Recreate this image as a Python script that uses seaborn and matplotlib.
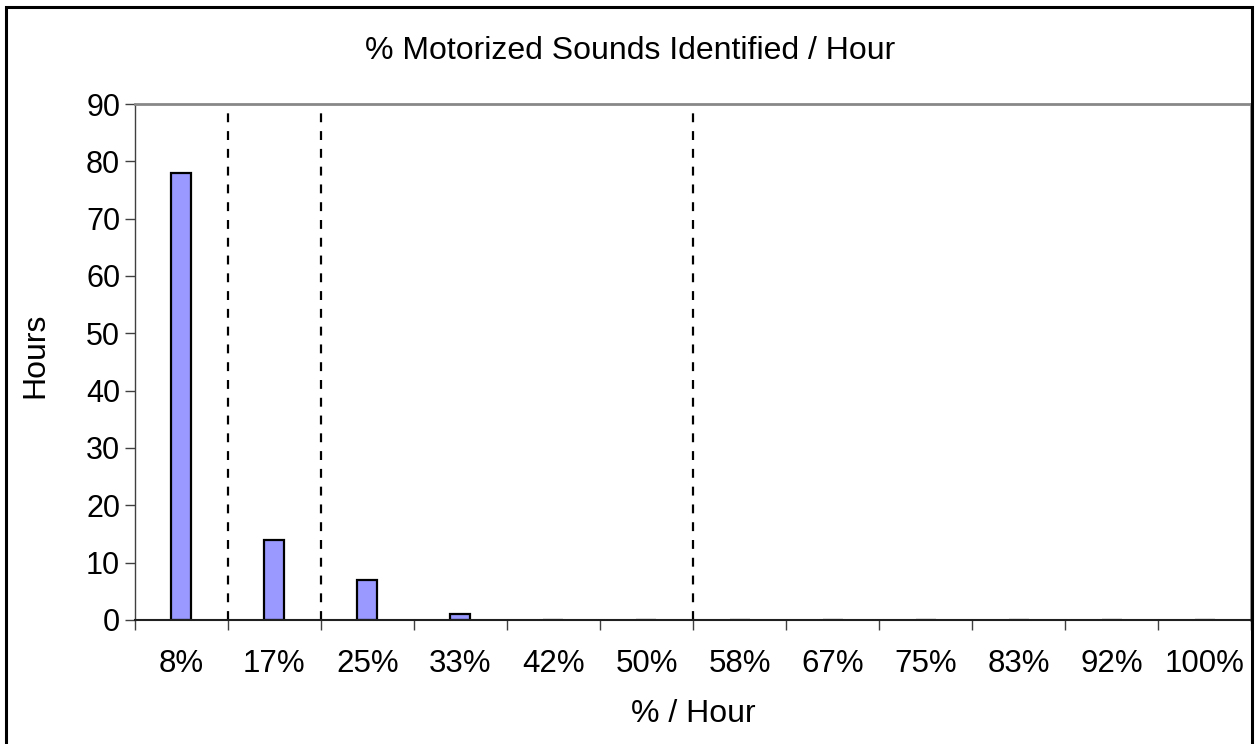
import matplotlib
matplotlib.use("Agg")
import matplotlib.pyplot as plt
import seaborn as sns
import pandas as pd
from matplotlib.patches import Rectangle

# data
categories = ["8%", "17%", "25%", "33%", "42%", "50%", "58%", "67%", "75%", "83%", "92%", "100%"]
hours = [78, 14, 7, 1, 0, 0, 0, 0, 0, 0, 0, 0]
divider_after = ["8%", "17%", "50%"]  # dashed lines sit right of these categories
y_ticks = [0, 10, 20, 30, 40, 50, 60, 70, 80, 90]

sns.set_style("white")
plt.rcParams["font.family"] = ["Liberation Sans", "DejaVu Sans"]
plt.rcParams["text.color"] = "black"
plt.rcParams["axes.labelcolor"] = "black"
plt.rcParams["xtick.labelcolor"] = "black"
plt.rcParams["ytick.labelcolor"] = "black"

df = pd.DataFrame({"pct": categories, "hours": hours})

fig = plt.figure(figsize=(12.6, 7.44), dpi=100)
ax = fig.add_axes([0.107, 0.1667, 0.886, 0.6935])

sns.barplot(data=df, x="pct", y="hours", order=categories, color="#9999FF",
            saturation=1, width=0.215, edgecolor="black", linewidth=1.6, ax=ax)

for c in divider_after:
    ax.axvline(categories.index(c) + 0.5, color="black", linestyle=(0, (4, 4)), linewidth=1.6)

ax.set_xlim(-0.5, len(categories) - 0.5)
ax.set_ylim(0, 90)
ax.set_yticks(y_ticks)

# tick marks on category boundaries, labels centred in each category
ax.set_xticks([i - 0.5 for i in range(len(categories) + 1)], minor=True)
ax.tick_params(axis="x", which="minor", length=7, width=1, color="#404040", direction="out")
ax.tick_params(axis="x", which="major", length=0, pad=21, labelsize=22.5)
ax.tick_params(axis="y", length=7, width=1, color="#404040", direction="out", pad=3.5, labelsize=22)
ax.xaxis.set_ticks_position("bottom")
ax.yaxis.set_ticks_position("left")

for side in ["top", "right"]:
    ax.spines[side].set_color("#888888")
    ax.spines[side].set_linewidth(2)
ax.spines["left"].set_color("#404040")
ax.spines["bottom"].set_color("#202020")
ax.spines["left"].set_linewidth(1)
ax.spines["bottom"].set_linewidth(1.5)

ax.set_xlabel("% / Hour", fontsize=23)
ax.set_ylabel("Hours", fontsize=23)
ax.xaxis.set_label_coords(0.5, -0.153)
ax.yaxis.set_label_coords(-0.076, 0.5136)

fig.text(0.5, 0.932, "% Motorized Sounds Identified / Hour", ha="center", va="center", fontsize=23)

fig.patches.append(Rectangle((0.005, -0.01), 0.9885, 1.0006, transform=fig.transFigure,
                             fill=False, edgecolor="black", linewidth=2.2))

fig.savefig("out.png", dpi=100, facecolor="white")
